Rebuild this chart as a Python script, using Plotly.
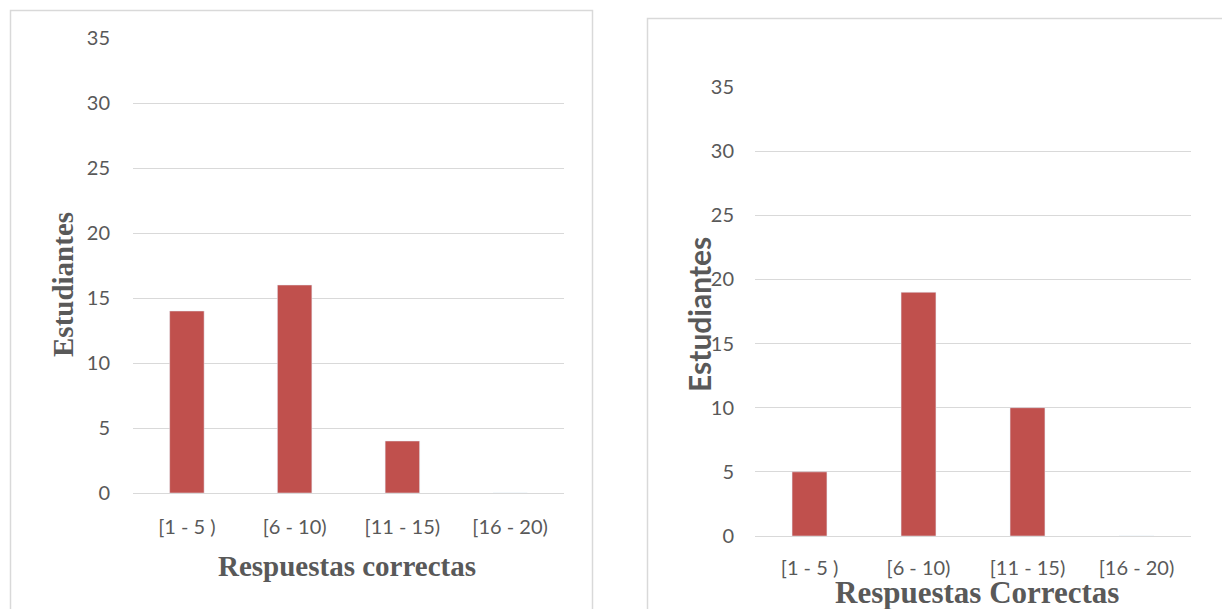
import plotly.graph_objects as go

W, H = 1222, 609

categorias = ["[1 - 5 )", "[6 - 10)", "[11 - 15)", "[16 - 20)"]
estudiantes_a = [14, 16, 4, 0]
estudiantes_b = [5, 19, 10, 0]
y_ticks = [0, 5, 10, 15, 20, 25, 30, 35]

BAR = "#C0504D"
GRID = "#D9D9D9"
TXT = "#595959"
SANS = "Lato, Carlito, Calibri, sans-serif"
SERIF = "Liberation Serif, Times New Roman, serif"


def px_x(p):
    return p / W


def px_y(p):
    return (H - p) / H


fig = go.Figure()
fig.add_trace(go.Bar(x=categorias, y=estudiantes_a, marker_color=BAR,
                     width=0.32, xaxis="x", yaxis="y", showlegend=False))
fig.add_trace(go.Bar(x=categorias, y=estudiantes_b, marker_color=BAR,
                     width=0.32, xaxis="x2", yaxis="y2", showlegend=False))

xcommon = dict(type="category", showgrid=False, showline=True, linecolor=GRID,
               linewidth=1, ticks="", tickfont=dict(family=SANS, size=20, color=TXT),
               fixedrange=True, automargin=False)
ycommon = dict(range=[0, 35], tickvals=y_ticks, showgrid=True, gridcolor=GRID,
               gridwidth=1, zeroline=False, showline=False, ticks="",
               tickfont=dict(family=SANS, size=20, color=TXT), fixedrange=True,
               automargin=False)

fig.update_layout(
    width=W, height=H,
    margin=dict(l=0, r=0, t=0, b=0, pad=0, autoexpand=False),
    paper_bgcolor="white", plot_bgcolor="white",
    showlegend=False,
    bargap=0.68,
    xaxis=dict(domain=[px_x(133), px_x(564)], anchor="y",
               ticklabelstandoff=16, **xcommon),
    yaxis=dict(domain=[px_y(493), px_y(38)], anchor="x",
               ticklabelstandoff=22, **ycommon),
    xaxis2=dict(domain=[px_x(755), px_x(1191)], anchor="y2",
                ticklabelstandoff=14, **xcommon),
    yaxis2=dict(domain=[px_y(536), px_y(87)], anchor="x2",
                ticklabelstandoff=20, **ycommon),
    shapes=[
        dict(type="rect", xref="paper", yref="paper",
             x0=px_x(10.5), x1=px_x(592.5), y0=-0.05, y1=px_y(10.5),
             line=dict(color=GRID, width=1.5), fillcolor="rgba(0,0,0,0)", layer="below"),
        dict(type="rect", xref="paper", yref="paper",
             x0=px_x(647.5), x1=1.05, y0=-0.05, y1=px_y(18.5),
             line=dict(color=GRID, width=1.5), fillcolor="rgba(0,0,0,0)", layer="below"),
    ],
    annotations=[
        dict(text="<b>Respuestas correctas</b>", xref="paper", yref="paper",
             x=px_x(347), y=px_y(566), xanchor="center", yanchor="middle",
             showarrow=False, font=dict(family=SERIF, size=29, color=TXT)),
        dict(text="<b>Estudiantes</b>", xref="paper", yref="paper",
             x=px_x(63), y=px_y(285), xanchor="center", yanchor="middle",
             showarrow=False, textangle=-90,
             font=dict(family=SERIF, size=29, color=TXT)),
        dict(text="<b>Respuestas Correctas</b>", xref="paper", yref="paper",
             x=px_x(977), y=px_y(592), xanchor="center", yanchor="middle",
             showarrow=False, font=dict(family=SERIF, size=31, color=TXT)),
        dict(text="<b>Estudiantes</b>", xref="paper", yref="paper",
             x=px_x(699), y=px_y(315), xanchor="center", yanchor="middle",
             showarrow=False, textangle=-90,
             font=dict(family=SANS, size=30, color=TXT)),
    ],
)

fig.write_html("out.html")
